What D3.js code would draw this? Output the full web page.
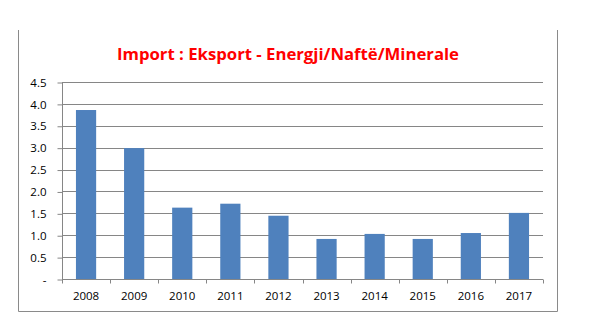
<!DOCTYPE html>
<html><head><meta charset="utf-8">
<script src="https://cdn.jsdelivr.net/npm/d3@7"></script>
<style>body{margin:0;background:#fff}svg{display:block}</style>
</head><body>
<script>
const years = ["2008","2009","2010","2011","2012","2013","2014","2015","2016","2017"];
const values = [3.86, 2.99, 1.63, 1.72, 1.445, 0.915, 1.03, 0.915, 1.05, 1.51];
const yTicks = [0, 0.5, 1.0, 1.5, 2.0, 2.5, 3.0, 3.5, 4.0, 4.5];
const title = "Import : Eksport - Energji/Naftë/Minerale";

const W = 597, H = 336;
const svg = d3.select("body").append("svg").attr("width", W).attr("height", H);

// frame (no top edge visible)
svg.append("path").attr("d", "M18.5,30 V311.5 H557.5 V30")
  .attr("stroke", "#8a8a8a").attr("stroke-width", 1).attr("fill", "none");

const m = {l: 62, r: 543, t: 82, b: 279};
const x = d3.scaleBand().domain(years).range([m.l, m.r]).paddingInner(0.58).paddingOuter(0.29);
const y = d3.scaleLinear().domain([0, 4.5]).range([m.b, m.t]);

// gridlines
svg.append("g").selectAll("line").data(yTicks.filter(d => d > 0)).join("line")
  .attr("x1", m.l).attr("x2", m.r)
  .attr("y1", d => Math.round(y(d)) + 0.5).attr("y2", d => Math.round(y(d)) + 0.5)
  .attr("stroke", "#868686").attr("stroke-width", 1);

// bars
svg.append("g").selectAll("rect").data(values).join("rect")
  .attr("x", (d, i) => x(years[i]))
  .attr("width", x.bandwidth())
  .attr("y", d => y(d))
  .attr("height", d => y(0) - y(d))
  .attr("fill", "#4F81BD");

// y axis
const yAxis = d3.axisLeft(y).tickValues(yTicks).tickSize(5).tickPadding(11)
  .tickFormat(d => d === 0 ? "-" : d3.format(".1f")(d));
const gy = svg.append("g").attr("transform", `translate(${m.l + 0.5},0.5)`).call(yAxis);
gy.selectAll("line,path").attr("stroke", "#868686");
gy.select(".domain").attr("d", `M0,${m.t}V${m.b}`);
gy.selectAll("text").attr("font-family", "'Open Sans', sans-serif").attr("font-size", 11.5).attr("fill", "#000");

// x axis
const gx = svg.append("g").attr("transform", `translate(0,${m.b + 0.5})`);
gx.append("line").attr("x1", m.l).attr("x2", m.r).attr("stroke", "#868686");
const tickXs = d3.range(years.length + 1).map(i => m.l + i * (m.r - m.l) / years.length);
gx.selectAll("line.t").data(tickXs).join("line").attr("class", "t")
  .attr("x1", d => Math.round(d) + 0.5).attr("x2", d => Math.round(d) + 0.5)
  .attr("y1", 0).attr("y2", 4).attr("stroke", "#868686");
gx.selectAll("text").data(years).join("text")
  .attr("x", d => x(d) + x.bandwidth() / 2)
  .attr("y", 20)
  .attr("text-anchor", "middle")
  .attr("font-family", "'Open Sans', sans-serif").attr("font-size", 11.5).attr("fill", "#000")
  .text(d => d);

// title
svg.append("text").attr("x", 288).attr("y", 59.5).attr("text-anchor", "middle")
  .attr("font-family", "'Open Sans', sans-serif").attr("font-weight", "bold")
  .attr("font-size", 16).attr("fill", "#FF0000")
  .attr("textLength", 342).attr("lengthAdjust", "spacingAndGlyphs")
  .text(title);
</script>
</body></html>
